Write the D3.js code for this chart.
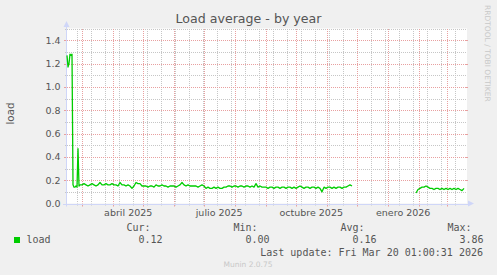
<html><head>
<meta charset="utf-8">
<title>Load average - by year</title>
<script src="https://cdn.jsdelivr.net/npm/d3@7"></script>
<style>
body{
	margin: 0px;
	background: #f0f0f0;
}
text {
	font-family: "DejaVu Sans", sans-serif;
	fill: #555;
}
.mono {
	font-family: "DejaVu Sans Mono", monospace;
	font-size: 10px;
}
</style>
</head>
<body>
<script>
var width = 497,
    height = 275;

// 400 days shown, like munin's year graph
var timeStart = new Date("2025-02-14T07:00:00Z"),
    timeEnd = new Date("2026-03-21T07:00:00Z");

// first days, one sample a day
var seg1aStart = "2025-02-14T07:00:00Z";
var seg1a = [1.27,1.17,1.20,1.28,1.27,1.28,0.16,0.14,0.14,0.15,0.14,0.47,0.15,0.16];

// rest of the first run, one sample every 2 days
var seg1bStart = "2025-03-01T07:00:00Z";
var seg1b = [
	0.16,0.17,0.16,0.15,0.16,0.17,0.16,0.15,0.16,0.18,
	0.16,0.16,0.17,0.16,0.16,0.17,0.16,0.16,0.15,0.18,
	0.16,0.16,0.15,0.16,0.15,0.13,0.15,0.18,0.17,0.17,
	0.15,0.15,0.15,0.14,0.15,0.15,0.14,0.16,0.15,0.15,
	0.16,0.15,0.15,0.14,0.15,0.15,0.15,0.14,0.15,0.16,
	0.18,0.16,0.15,0.16,0.15,0.15,0.15,0.15,0.14,0.15,
	0.16,0.15,0.13,0.14,0.13,0.13,0.14,0.13,0.14,0.13,
	0.13,0.14,0.14,0.15,0.15,0.14,0.15,0.15,0.14,0.15,
	0.15,0.14,0.15,0.15,0.14,0.15,0.14,0.17,0.14,0.15,
	0.14,0.14,0.14,0.13,0.14,0.14,0.13,0.14,0.14,0.13,
	0.14,0.14,0.13,0.14,0.14,0.13,0.14,0.13,0.14,0.15,
	0.14,0.13,0.14,0.14,0.13,0.14,0.14,0.13,0.14,0.13,
	0.10,0.14,0.13,0.14,0.14,0.13,0.14,0.13,0.14,0.14,
	0.13,0.14,0.14,0.15,0.16,0.15
];

// after the gap, every 2 days
var seg2Start = "2026-01-29T07:00:00Z";
var seg2 = [0.09,0.12,0.13,0.14,0.14,0.15,0.14,0.13,0.13,0.12,0.13,0.13,0.12,
	0.13,0.12,0.13,0.12,0.13,0.12,0.13,0.12,0.13,0.12,0.11,0.13];

var yMajor = [0.2,0.4,0.6,0.8,1.0,1.2,1.4];
var yLabels = ["0.0","0.2","0.4","0.6","0.8","1.0","1.2","1.4"];
var yLabelVals = [0,0.2,0.4,0.6,0.8,1.0,1.2,1.4];
var yMinor = [0.1,0.3,0.5,0.7,0.9,1.1,1.3,1.5];

var monthLabels = ["abril 2025","julio 2025","octubre 2025","enero 2026"];
var monthLabelDates = ["2025-04-16T12:00:00Z","2025-07-16T12:00:00Z","2025-10-16T12:00:00Z","2026-01-16T12:00:00Z"];

var legendHead = ["Cur:","Min:","Avg:","Max:"];
var legendVals = ["0.12","0.00","0.16","3.86"];

function toSeries(start, step, vals){
	var t0 = new Date(start);
	return vals.map(function(v,i){
		return {date: d3.utcDay.offset(t0, i*step), value: v};
	});
}

var run1 = toSeries(seg1aStart,1,seg1a).concat(toSeries(seg1bStart,2,seg1b));
var run2 = toSeries(seg2Start,2,seg2);

var pLeft = 67, pRight = 467, pTop = 28.5, pBottom = 203.5;

var x = d3.scaleUtc().domain([timeStart,timeEnd]).range([pLeft,pRight]);
var y = d3.scaleLinear().domain([0,1.5]).range([pBottom,pTop]);

var svg = d3.select("body").append("svg")
	.attr("width", width)
	.attr("height", height);

svg.append("rect")
	.attr("width", width)
	.attr("height", height)
	.attr("fill", "#f0f0f0");

svg.append("rect")
	.attr("x", pLeft)
	.attr("y", pTop)
	.attr("width", pRight-pLeft)
	.attr("height", pBottom-pTop)
	.attr("fill", "#fff");

function px(v){ return Math.round(v)+0.5; }

var minorCol = "#c6c6c6",
    majorCol = "#e8a0a0";

// minor verticals, every second monday
var minorDates = d3.utcDay.range(new Date("2025-02-24T00:00:00Z"), timeEnd, 14);
var majorDates = d3.utcMonth.range(timeStart, timeEnd);

var grid = svg.append("g");

// dashes start on whole pixels so the dots stay crisp
var vTop = 29, vBottom = 203;

grid.selectAll(".vmin").data(minorDates).enter().append("line")
	.attr("x1", function(d){ return px(x(d)); })
	.attr("x2", function(d){ return px(x(d)); })
	.attr("y1", vTop)
	.attr("y2", vBottom)
	.attr("stroke", minorCol)
	.attr("stroke-dasharray", "1,1");
grid.selectAll(".hmin").data(yMinor).enter().append("line")
	.attr("x1", pLeft)
	.attr("x2", pRight)
	.attr("y1", function(d){ return px(y(d)); })
	.attr("y2", function(d){ return px(y(d)); })
	.attr("stroke", minorCol)
	.attr("stroke-dasharray", "1,1");

grid.selectAll(".vmaj").data(majorDates).enter().append("line")
	.attr("x1", function(d){ return px(x(d)); })
	.attr("x2", function(d){ return px(x(d)); })
	.attr("y1", vTop)
	.attr("y2", vBottom)
	.attr("stroke", majorCol)
	.attr("stroke-dasharray", "1,1");
grid.selectAll(".hmaj").data(yMajor).enter().append("line")
	.attr("x1", pLeft)
	.attr("x2", pRight)
	.attr("y1", function(d){ return px(y(d)); })
	.attr("y2", function(d){ return px(y(d)); })
	.attr("stroke", majorCol)
	.attr("stroke-dasharray", "1,1");

// little solid ticks at the ends
grid.selectAll(".tvmin").data(minorDates).enter().append("line")
	.attr("x1", function(d){ return px(x(d)); })
	.attr("x2", function(d){ return px(x(d)); })
	.attr("y1", pBottom)
	.attr("y2", pBottom+2)
	.attr("stroke", minorCol);
grid.selectAll(".tvmaj").data(majorDates).enter().append("line")
	.attr("x1", function(d){ return px(x(d)); })
	.attr("x2", function(d){ return px(x(d)); })
	.attr("y1", pBottom)
	.attr("y2", pBottom+3)
	.attr("stroke", majorCol);
grid.selectAll(".thmin").data(yMinor).enter().append("line")
	.attr("x1", pLeft-2)
	.attr("x2", pLeft)
	.attr("y1", function(d){ return px(y(d)); })
	.attr("y2", function(d){ return px(y(d)); })
	.attr("stroke", minorCol);
grid.selectAll(".thmaj").data(yMajor).enter().append("line")
	.attr("x1", pLeft-3)
	.attr("x2", pLeft)
	.attr("y1", function(d){ return px(y(d)); })
	.attr("y2", function(d){ return px(y(d)); })
	.attr("stroke", majorCol);
grid.selectAll(".thmaj2").data(yMajor).enter().append("line")
	.attr("x1", pRight-2)
	.attr("x2", pRight+1)
	.attr("y1", function(d){ return px(y(d)); })
	.attr("y2", function(d){ return px(y(d)); })
	.attr("stroke", majorCol);

// axes with arrows
var axisCol = "#cfd6f8";
svg.append("line")
	.attr("x1", pLeft-0.5).attr("x2", pLeft-0.5)
	.attr("y1", pBottom+3).attr("y2", pTop-4)
	.attr("stroke", axisCol);
svg.append("line")
	.attr("x1", pLeft-4).attr("x2", pRight+2)
	.attr("y1", px(y(0))).attr("y2", px(y(0)))
	.attr("stroke", axisCol);
svg.append("path")
	.attr("d", "M" + (pLeft-3.5) + "," + (pTop-1.5) + "L" + (pLeft+2.5) + "," + (pTop-1.5) + "L" + (pLeft-0.5) + "," + (pTop-7.5) + "Z")
	.attr("fill", axisCol);
svg.append("path")
	.attr("d", "M" + (pRight+1) + "," + (pBottom-3) + "L" + (pRight+1) + "," + (pBottom+3) + "L" + (pRight+7) + "," + pBottom + "Z")
	.attr("fill", axisCol);

// the load line
var line = d3.line()
	.x(function(d){ return x(d.date); })
	.y(function(d){ return y(d.value); });

[run1, run2].forEach(function(r){
	svg.append("path")
		.attr("d", line(r))
		.attr("fill", "none")
		.attr("stroke", "#00cc00")
		.attr("stroke-width", 1.3)
		.attr("stroke-linejoin", "round");
});

// texts
svg.append("text")
	.text("Load average - by year")
	.attr("x", 248.5)
	.attr("y", 23)
	.attr("text-anchor", "middle")
	.attr("font-size", 12.6);

svg.selectAll(".ylab").data(yLabelVals).enter().append("text")
	.text(function(d,i){ return yLabels[i]; })
	.attr("x", 60.5)
	.attr("y", function(d){ return y(d) + 3.5; })
	.attr("text-anchor", "end")
	.attr("font-size", 9.5);

svg.selectAll(".xlab").data(monthLabelDates).enter().append("text")
	.text(function(d,i){ return monthLabels[i]; })
	.attr("x", function(d){ return x(new Date(d)); })
	.attr("y", 216)
	.attr("text-anchor", "middle")
	.attr("font-size", 9.5);

svg.append("text")
	.text("load")
	.attr("transform", "translate(14,113.5) rotate(-90)")
	.attr("text-anchor", "middle")
	.attr("font-size", 10.3);

svg.append("text")
	.text("RRDTOOL / TOBI OETIKER")
	.attr("transform", "translate(485,5) rotate(90)")
	.attr("font-size", 7.5)
	.style("fill", "#c8c8c8");

// legend
svg.append("rect")
	.attr("x", 14)
	.attr("y", 237)
	.attr("width", 6)
	.attr("height", 6)
	.attr("fill", "#00cc00");
svg.append("text")
	.attr("class", "mono")
	.text("load")
	.attr("x", 26.5)
	.attr("y", 243);

svg.selectAll(".lhead").data(legendHead).enter().append("text")
	.attr("class", "mono")
	.text(function(d){ return d; })
	.attr("x", function(d,i){ return 126.5 + i*107; })
	.attr("y", 231);
svg.selectAll(".lval").data(legendVals).enter().append("text")
	.attr("class", "mono")
	.text(function(d){ return d; })
	.attr("x", function(d,i){ return 138.5 + i*107; })
	.attr("y", 243);

svg.append("text")
	.attr("class", "mono")
	.text("Last update: Fri Mar 20 01:00:31 2026")
	.attr("x", 483)
	.attr("y", 255.5)
	.attr("text-anchor", "end");

svg.append("text")
	.text("Munin 2.0.75")
	.attr("x", 248)
	.attr("y", 267)
	.attr("text-anchor", "middle")
	.attr("font-size", 7.5)
	.style("fill", "#c8c8c8");

</script>
</body></html>
